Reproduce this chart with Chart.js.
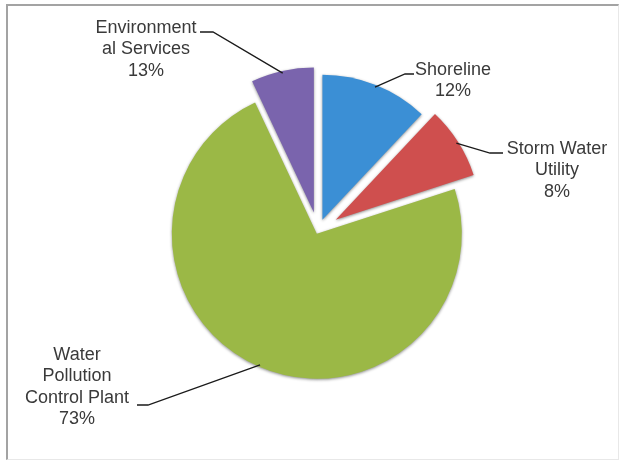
<!DOCTYPE html>
<html>
<head>
<meta charset="utf-8">
<script src="https://cdn.jsdelivr.net/npm/chart.js@4/dist/chart.umd.min.js"></script>
<style>
  html, body { margin: 0; padding: 0; background: #fff; }
  #wrap { position: relative; width: 624px; height: 465px; }
  #frame {
    position: absolute; left: 6px; top: 4px; width: 613px; height: 456px;
    border-top: 2px solid #a3a3a3; border-left: 2px solid #a3a3a3;
    border-right: 1px solid #e8e8e8; border-bottom: 1px solid #e8e8e8;
    box-sizing: border-box;
  }
  canvas { position: absolute; left: 0; top: 0; }
</style>
</head>
<body>
<div id="wrap">
  <div id="frame"></div>
  <canvas id="chart" width="624" height="465"></canvas>
</div>
<script>
// slice shares as drawn (clockwise from 12 o'clock)
const categories = ['Shoreline', 'Storm Water Utility', 'Water Pollution Control Plant', 'Environmental Services'];
const shares = [12, 8, 73, 7];
// percentages printed in the data labels
const percentLabels = ['12%', '8%', '73%', '13%'];
// category text as wrapped in the labels
const labelLines = [
  ['Shoreline'],
  ['Storm Water', 'Utility'],
  ['Water', 'Pollution', 'Control Plant'],
  ['Environment', 'al Services'],
];
const colors = ['#3b8fd5', '#cf4f4e', '#9bb846', '#7a64ad'];

// styling / layout
const explode = [12, 21, 3, 19];
const labelLayout = [
  { x: 453, y: 70, start: [414, 74], elbow: [405, 74] },
  { x: 557, y: 149, start: [503, 153], elbow: [490, 153] },
  { x: 77, y: 355, start: [137, 405], elbow: [148, 405] },
  { x: 146, y: 28, start: [200, 32], elbow: [213, 32] },
];
const LINE_H = 21.5;

// draw each slice pushed out along its bisector
const explodePlugin = {
  id: 'explode',
  beforeDatasetDraw(chart, args) {
    const ctx = chart.ctx;
    ctx.save();
    ctx.shadowColor = 'rgba(0,0,0,0.45)';
    ctx.shadowBlur = 3;
    ctx.shadowOffsetX = 0;
    ctx.shadowOffsetY = 1;
    args.meta.data.forEach((arc, i) => {
      const mid = (arc.startAngle + arc.endAngle) / 2;
      ctx.save();
      ctx.translate(Math.cos(mid) * explode[i], Math.sin(mid) * explode[i]);
      arc.draw(ctx);
      ctx.restore();
    });
    ctx.restore();
    return false;
  },
};

// data labels with leader lines
const labelPlugin = {
  id: 'pieLabels',
  afterDatasetsDraw(chart) {
    const ctx = chart.ctx;
    const meta = chart.getDatasetMeta(0);
    ctx.save();
    meta.data.forEach((arc, i) => {
      const mid = (arc.startAngle + arc.endAngle) / 2;
      const r = arc.outerRadius * 0.985;
      const tx = arc.x + Math.cos(mid) * (explode[i] + r);
      const ty = arc.y + Math.sin(mid) * (explode[i] + r);
      const lay = labelLayout[i];

      ctx.strokeStyle = '#1a1a1a';
      ctx.lineWidth = 1.3;
      ctx.beginPath();
      ctx.moveTo(lay.start[0], lay.start[1]);
      ctx.lineTo(lay.elbow[0], lay.elbow[1]);
      ctx.lineTo(tx, ty);
      ctx.stroke();

      ctx.fillStyle = '#3a3a3a';
      ctx.font = '18px "Liberation Sans", Arial, sans-serif';
      ctx.textAlign = 'center';
      ctx.textBaseline = 'middle';
      const lines = [...labelLines[i], percentLabels[i]];
      lines.forEach((t, k) => ctx.fillText(t, lay.x, lay.y + k * LINE_H));
    });
    ctx.restore();
  },
};

new Chart(document.getElementById('chart'), {
  type: 'pie',
  data: {
    labels: categories,
    datasets: [{
      data: shares,
      backgroundColor: colors,
      borderWidth: 0,
      radius: 145,
    }],
  },
  options: {
    responsive: false,
    animation: false,
    layout: { padding: { left: 12, right: 0, top: 0, bottom: 3 } },
    plugins: {
      legend: { display: false },
      tooltip: { enabled: false },
    },
  },
  plugins: [explodePlugin, labelPlugin],
});
</script>
</body>
</html>
